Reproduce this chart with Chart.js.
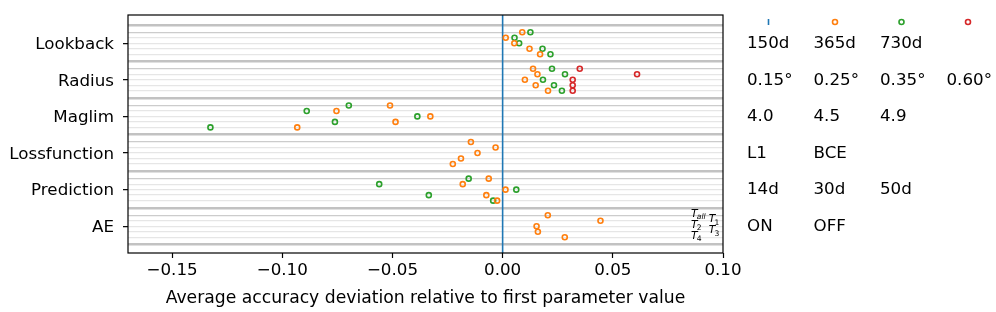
<!DOCTYPE html>
<html>
<head>
<meta charset="utf-8">
<script src="https://cdn.jsdelivr.net/npm/chart.js@4.4.1/dist/chart.umd.min.js"></script>
<style>
  html, body { margin: 0; padding: 0; background: #fff; }
  #chart { display: block; }
</style>
</head>
<body>
<canvas id="chart" width="996" height="312"></canvas>
<script>
const categories = ["Lookback", "Radius", "Maglim", "Lossfunction", "Prediction", "AE"];
const paramValues = [
  ["150d", "365d", "730d"],
  ["0.15°", "0.25°", "0.35°", "0.60°"],
  ["4.0", "4.5", "4.9"],
  ["L1", "BCE"],
  ["14d", "30d", "50d"],
  ["ON", "OFF"]
];
// one row per target: T_all, T1, T2, T3, T4
const targetNames = ["all", "1", "2", "3", "4"];
const rowOffsets = [-0.3, -0.15, 0, 0.15, 0.3];
const xTicks = [-0.15, -0.10, -0.05, 0, 0.05, 0.10];
const xMin = -0.17;
const xMax = 0.10;
const yMin = -0.77;
const yMax = 5.73;
const baseline = 0;
const targetLabelX = [0.0855, 0.0935];

// deviation of the 2nd / 3rd / 4th parameter value, per category and target row
const secondValue = [
  [0.0089, 0.0014, 0.0053, 0.0122, 0.0170],
  [0.0138, 0.0158, 0.0101, 0.0150, 0.0206],
  [-0.0511, -0.0754, -0.0328, -0.0486, -0.0932],
  [-0.0144, -0.0032, -0.0114, -0.0189, -0.0226],
  [-0.0063, -0.0181, 0.0013, -0.0074, -0.0025],
  [0.0205, 0.0444, 0.0154, 0.0160, 0.0282]
];
const thirdValue = [
  [0.0126, 0.0054, 0.0075, 0.0181, 0.0217],
  [0.0224, 0.0283, 0.0183, 0.0233, 0.0269],
  [-0.0698, -0.0889, -0.0387, -0.0761, -0.1326],
  null,
  [-0.0154, -0.0560, 0.0062, -0.0335, -0.0043],
  null
];
const fourthValue = [
  null,
  [0.0350, 0.0610, 0.0318, 0.0318, 0.0318],
  null,
  null,
  null,
  null
];

const colors = ["#1f77b4", "#ff7f0e", "#2ca02c", "#d62728"];
const FONT = "DejaVu Sans";

Chart.defaults.font.family = FONT;
Chart.defaults.font.size = 16.7;
Chart.defaults.color = "#000";

function toPoints(values) {
  const points = [];
  values.forEach((row, i) => {
    if (!row) return;
    row.forEach((v, r) => points.push({ x: v, y: i + rowOffsets[r] }));
  });
  return points;
}

function buildYTicks() {
  const ticks = [];
  categories.forEach((name, i) => {
    ticks.push({ value: i - 0.5, kind: "sep", name: "" });
    rowOffsets.forEach((o, r) => {
      ticks.push({
        value: i + o,
        kind: r === 0 ? "first" : (o === 0 ? "center" : "row"),
        name: o === 0 ? name : ""
      });
    });
  });
  ticks.push({ value: categories.length - 0.5, kind: "sep", name: "" });
  return ticks;
}

function gridColor(kind) {
  if (kind === "sep") return "#c2c2c2";
  if (kind === "first") return "#cccccc";
  return "#e6e6e6";
}

function markerStyle(color) {
  return {
    type: "scatter",
    borderColor: color,
    backgroundColor: "rgba(0,0,0,0)",
    pointRadius: 2.5,
    pointBorderWidth: 1.6,
    pointHoverRadius: 2.5
  };
}

const framePlugin = {
  id: "frame",
  afterDatasetsDraw(chart) {
    const { ctx, chartArea: a } = chart;
    ctx.save();
    ctx.strokeStyle = "#000";
    ctx.lineWidth = 1.2;
    ctx.strokeRect(a.left, a.top, a.right - a.left, a.bottom - a.top);
    ctx.restore();
  }
};

const targetLabelPlugin = {
  id: "targetLabels",
  afterDatasetsDraw(chart) {
    const { ctx } = chart;
    const xs = chart.scales.x;
    const ys = chart.scales.y;
    const aeIndex = categories.indexOf("AE");
    ctx.save();
    ctx.fillStyle = "#000";
    ctx.textBaseline = "alphabetic";
    ctx.textAlign = "left";
    targetNames.forEach((t, r) => {
      const x = xs.getPixelForValue(targetLabelX[r % 2]);
      const y = ys.getPixelForValue(aeIndex + rowOffsets[r]) + 1.5;
      ctx.font = `italic 10.8px '${FONT}'`;
      ctx.fillText("T", x, y);
      const w = ctx.measureText("T").width;
      ctx.font = (t === "all" ? "italic " : "") + `7.6px '${FONT}'`;
      ctx.fillText(t, x + w - 0.8, y + 2.4);
    });
    ctx.restore();
  }
};

const paramLegendPlugin = {
  id: "paramLegend",
  afterDraw(chart) {
    const { ctx, chartArea: a } = chart;
    const ys = chart.scales.y;
    const colX = k => a.right + 24 + k * 66.5;
    const headY = a.top + 7;
    ctx.save();
    colors.forEach((c, k) => {
      const cx = colX(k) + 21.5;
      ctx.strokeStyle = c;
      ctx.lineWidth = 1.6;
      ctx.beginPath();
      if (k === 0) {
        ctx.moveTo(cx, headY - 3);
        ctx.lineTo(cx, headY + 3);
      } else {
        ctx.arc(cx, headY, 2.5, 0, Math.PI * 2);
      }
      ctx.stroke();
    });
    ctx.fillStyle = "#000";
    ctx.font = `16.7px '${FONT}'`;
    ctx.textAlign = "left";
    ctx.textBaseline = "middle";
    paramValues.forEach((vals, i) => {
      const y = ys.getPixelForValue(i) + 0.5;
      vals.forEach((v, k) => ctx.fillText(v, colX(k), y));
    });
    ctx.restore();
  }
};

new Chart(document.getElementById("chart"), {
  type: "scatter",
  data: {
    datasets: [
      { ...markerStyle(colors[1]), label: "second", data: toPoints(secondValue) },
      { ...markerStyle(colors[2]), label: "third", data: toPoints(thirdValue) },
      { ...markerStyle(colors[3]), label: "fourth", data: toPoints(fourthValue) },
      {
        type: "line",
        label: "first",
        data: [{ x: baseline, y: yMin }, { x: baseline, y: yMax }],
        borderColor: colors[0],
        borderWidth: 1.6,
        pointRadius: 0,
        showLine: true,
        fill: false
      }
    ]
  },
  options: {
    responsive: false,
    devicePixelRatio: 1,
    animation: false,
    events: [],
    layout: { padding: { top: 15, right: 273, left: 0, bottom: 0 } },
    plugins: {
      legend: { display: false },
      tooltip: { enabled: false }
    },
    scales: {
      x: {
        type: "linear",
        min: xMin,
        max: xMax,
        afterBuildTicks: axis => {
          axis.ticks = xTicks.map(v => ({ value: v }));
        },
        afterFit: axis => { axis.height = 59; },
        ticks: {
          autoSkip: false,
          maxRotation: 0,
          padding: 3,
          font: { size: 16.7 },
          callback: v => v.toFixed(2).replace("-", "\u2212")
        },
        grid: {
          drawOnChartArea: false,
          drawTicks: true,
          tickLength: 5,
          tickColor: "#000",
          tickWidth: 1.2
        },
        border: { display: false },
        title: {
          display: true,
          text: "Average accuracy deviation relative to first parameter value",
          font: { size: 17.2 },
          padding: { top: 2, bottom: 3 }
        }
      },
      y: {
        type: "linear",
        reverse: true,
        min: yMin,
        max: yMax,
        afterBuildTicks: axis => { axis.ticks = buildYTicks(); },
        afterFit: axis => {
          axis.width = 128;
          axis.paddingTop = 0;
          axis.paddingBottom = 0;
        },
        ticks: {
          autoSkip: false,
          padding: 9,
          labelOffset: 1.5,
          font: { size: 16.7 },
          callback: (value, index, ticks) => ticks[index].name || ""
        },
        grid: {
          drawTicks: true,
          tickLength: 5,
          color: ctx => gridColor(ctx.tick && ctx.tick.kind),
          lineWidth: ctx => (ctx.tick && ctx.tick.kind === "sep") ? 2.6 : 1.3,
          tickColor: ctx => (ctx.tick && ctx.tick.kind === "center") ? "#000" : "rgba(0,0,0,0)",
          tickWidth: 1.2
        },
        border: { display: false }
      }
    }
  },
  plugins: [framePlugin, targetLabelPlugin, paramLegendPlugin]
});
</script>
</body>
</html>
